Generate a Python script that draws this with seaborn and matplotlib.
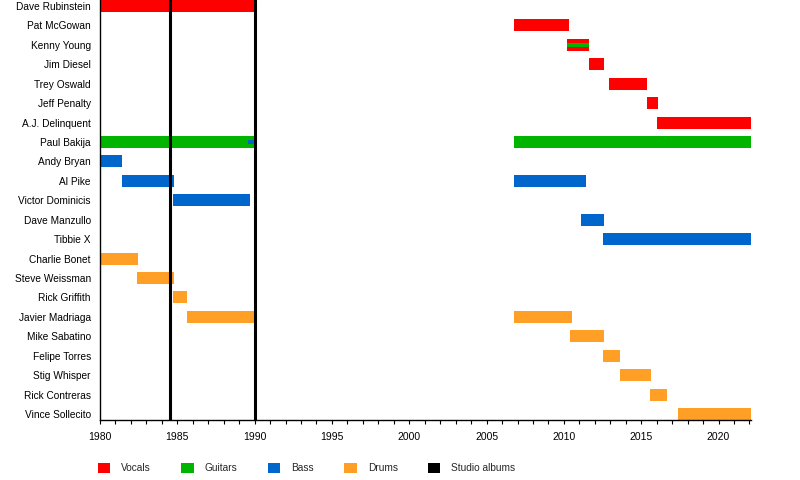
import matplotlib
matplotlib.use("Agg")
import matplotlib.pyplot as plt
from matplotlib.patches import Patch
from matplotlib.ticker import MultipleLocator
import pandas as pd
import seaborn as sns

members = [
    "Dave Rubinstein", "Pat McGowan", "Kenny Young", "Jim Diesel", "Trey Oswald",
    "Jeff Penalty", "A.J. Delinquent", "Paul Bakija", "Andy Bryan", "Al Pike",
    "Victor Dominicis", "Dave Manzullo", "Tibbie X", "Charlie Bonet", "Steve Weissman",
    "Rick Griffith", "Javier Madriaga", "Mike Sabatino", "Felipe Torres", "Stig Whisper",
    "Rick Contreras", "Vince Sollecito",
]

# main spells (full-height bars)
spell_member = [
    "Dave Rubinstein", "Pat McGowan", "Kenny Young", "Jim Diesel", "Trey Oswald",
    "Jeff Penalty", "A.J. Delinquent", "Paul Bakija", "Paul Bakija", "Andy Bryan",
    "Al Pike", "Al Pike", "Victor Dominicis", "Dave Manzullo", "Tibbie X",
    "Charlie Bonet", "Steve Weissman", "Rick Griffith", "Javier Madriaga", "Javier Madriaga",
    "Mike Sabatino", "Felipe Torres", "Stig Whisper", "Rick Contreras", "Vince Sollecito",
]
spell_role = [
    "Vocals", "Vocals", "Vocals", "Vocals", "Vocals",
    "Vocals", "Vocals", "Guitars", "Guitars", "Bass",
    "Bass", "Bass", "Bass", "Bass", "Bass",
    "Drums", "Drums", "Drums", "Drums", "Drums",
    "Drums", "Drums", "Drums", "Drums", "Drums",
]
spell_start = [
    1980.0, 2006.8, 2010.2, 2011.6, 2012.9,
    2015.35, 2016.05, 1980.0, 2006.8, 1980.0,
    1981.4, 2006.8, 1984.7, 2011.1, 2012.55,
    1980.0, 1982.4, 1984.7, 1985.6, 2006.8,
    2010.4, 2012.55, 2013.6, 2015.6, 2017.4,
]
spell_end = [
    1990.15, 2010.3, 2011.65, 2012.6, 2015.4,
    2016.1, 2022.1, 1990.15, 2022.1, 1981.4,
    1984.8, 2011.4, 1989.7, 2012.6, 2022.1,
    1982.45, 1984.8, 1985.6, 1990.15, 2010.5,
    2012.6, 2013.65, 2015.65, 2016.65, 2022.1,
]

# secondary roles (thin stripes inside a bar)
extra_member = ["Kenny Young", "Paul Bakija"]
extra_role = ["Guitars", "Bass"]
extra_start = [2010.2, 1989.6]
extra_end = [2011.65, 1990.15]

album_years = [1984.5, 1990.0]

role_colors = {
    "Vocals": "#ff0000",
    "Guitars": "#00b400",
    "Bass": "#0066cc",
    "Drums": "#ff9f25",
}

spells = pd.DataFrame({"member": spell_member, "role": spell_role,
                       "start": spell_start, "end": spell_end})
extras = pd.DataFrame({"member": extra_member, "role": extra_role,
                       "start": extra_start, "end": extra_end})
row = {m: i for i, m in enumerate(members)}

sns.set_theme(style="ticks")
plt.rcParams["font.family"] = ["Liberation Sans", "DejaVu Sans"]

fig = plt.figure(figsize=(8, 4.8), dpi=100)
ax = fig.add_axes([0.125, 0.125, 651 / 800, 0.875])

bar_h = 0.62
for _, r in spells.iterrows():
    ax.barh(row[r["member"]], r["end"] - r["start"], left=r["start"], height=bar_h,
            color=role_colors[r["role"]], linewidth=0, zorder=2)
for _, r in extras.iterrows():
    ax.barh(row[r["member"]], r["end"] - r["start"], left=r["start"], height=bar_h / 3,
            color=role_colors[r["role"]], linewidth=0, zorder=3)

for yr in album_years:
    ax.axvline(yr, color="black", linewidth=2.2, zorder=4)

ax.set_xlim(1980, 2022.1)
ax.set_ylim(len(members) - 1 + 0.31, -0.31)
ax.set_yticks(range(len(members)))
ax.set_yticklabels(members)
ax.xaxis.set_major_locator(MultipleLocator(5))
ax.xaxis.set_minor_locator(MultipleLocator(1))
ax.tick_params(axis="y", length=0, pad=6.5, labelsize=7.3, colors="black")
ax.tick_params(axis="x", which="both", length=3, width=0.8, direction="out",
               labelsize=7.5, colors="black", pad=5.5)
sns.despine(ax=ax, top=True, right=True)
ax.spines["left"].set_color("black")
ax.spines["bottom"].set_color("black")
ax.spines["left"].set_linewidth(1.0)
ax.spines["bottom"].set_linewidth(1.0)
ax.set_xlabel("")
ax.set_ylabel("")

handles = [Patch(facecolor=c, edgecolor="none", label=k) for k, c in role_colors.items()]
handles.append(Patch(facecolor="black", edgecolor="none", label="Studio albums"))
fig.legend(handles=handles, loc="center left", bbox_to_anchor=(0.1225, 0.025), ncol=5,
           frameon=False, fontsize=7.3, handlelength=1.2, handleheight=1.2,
           handletextpad=1.1, columnspacing=3.0, borderpad=0, borderaxespad=0)

fig.savefig("out.png", dpi=100)
